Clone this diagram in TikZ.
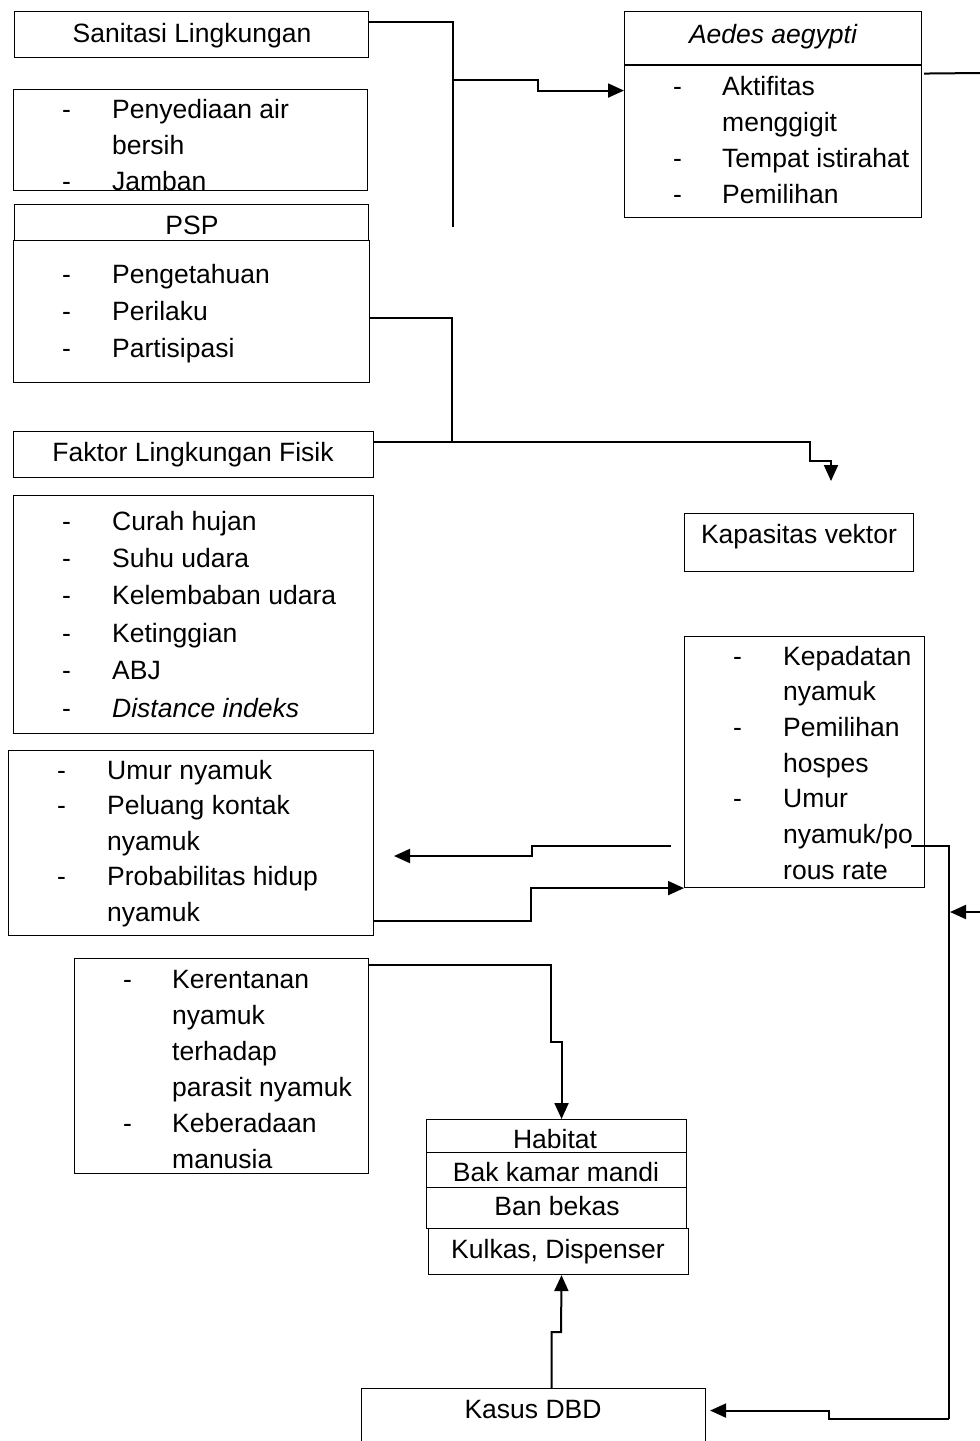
\documentclass[tikz,border=0pt]{standalone}
\usepackage{fontspec}
\setmainfont{Liberation Sans}
\usetikzlibrary{arrows.meta}
\begin{document}
\begin{tikzpicture}[x=1pt,y=-1pt,
  box/.style={draw=black, line width=1.1pt, rectangle, inner sep=0pt, anchor=north west},
  lbl/.style={inner sep=0pt, anchor=base, font=\fontsize{26.5}{32}\selectfont},
  lst/.style={inner sep=0pt, anchor=base west, font=\fontsize{26.5}{#1}\selectfont},
  conn/.style={line width=2pt, black},
  arr/.style={conn, -{Triangle[length=16pt,width=14pt]}},
]
\path[use as bounding box] (0,0) rectangle (980,1441);
\clip (0,0) rectangle (980,1441);
\fill[white] (0,0) rectangle (980,1441);

% left column
\node[box, minimum width=354pt, minimum height=46pt] (sani) at (14,11) {};
\node[lbl] (saniT) at (192,42) {Sanitasi Lingkungan};

\node[box, minimum width=354pt, minimum height=101pt] (air) at (13,89) {};
\node[lst=36] (airT) at (62,118) {\begin{tabular}[t]{@{}p{50pt}@{}l@{}}-&Penyediaan air\\&bersih\\-&Jamban\end{tabular}};

\node[box, minimum width=354pt, minimum height=36pt] (psph) at (14,204) {};
\node[lbl] (psphT) at (192,234) {PSP};
\node[box, minimum width=356pt, minimum height=142pt] (psp) at (13,240) {};
\node[lst=37] (pspT) at (62,283) {\begin{tabular}[t]{@{}p{50pt}@{}l@{}}-&Pengetahuan\\-&Perilaku\\-&Partisipasi\end{tabular}};

\node[box, minimum width=360pt, minimum height=46pt] (fak) at (13,431) {};
\node[lbl] (fakT) at (193,461) {Faktor Lingkungan Fisik};
\node[box, minimum width=360pt, minimum height=238pt] (fakl) at (13,495) {};
\node[lst=37.4] (faklT) at (62,530) {\begin{tabular}[t]{@{}p{50pt}@{}l@{}}-&Curah hujan\\-&Suhu udara\\-&Kelembaban udara\\-&Ketinggian\\-&ABJ\\-&\textit{Distance indeks}\end{tabular}};

\node[box, minimum width=365pt, minimum height=185pt] (umur) at (8,750) {};
\node[lst=35.5] (umurT) at (57,779) {\begin{tabular}[t]{@{}p{50pt}@{}l@{}}-&Umur nyamuk\\-&Peluang kontak\\&nyamuk\\-&Probabilitas hidup\\&nyamuk\end{tabular}};

\node[box, minimum width=294pt, minimum height=215pt] (keren) at (74,958) {};
\node[lst=36] (kerenT) at (123,988) {\begin{tabular}[t]{@{}p{49pt}@{}l@{}}-&Kerentanan\\&nyamuk\\&terhadap\\&parasit nyamuk\\-&Keberadaan\\&manusia\end{tabular}};

% right column
\node[box, minimum width=297pt, minimum height=206pt] (aedes) at (624,11) {};
\draw[line width=1.1pt] (aedes.north west |- 0,65) -- (aedes.north east |- 0,65);
\node[lbl] (aedesT) at (773,43) {\itshape Aedes aegypti};
\node[lst=36] (aedesL) at (673,95) {\begin{tabular}[t]{@{}p{49pt}@{}l@{}}-&Aktifitas\\&menggigit\\-&Tempat istirahat\\-&Pemilihan\end{tabular}};

\node[box, minimum width=229pt, minimum height=58pt] (kap) at (684,513) {};
\node[lbl] (kapT) at (799,543) {Kapasitas vektor};

\node[box, minimum width=240pt, minimum height=251pt] (kep) at (684,636) {};
\node[lst=35.7] (kepT) at (733,665) {\begin{tabular}[t]{@{}p{50pt}@{}l@{}}-&Kepadatan\\&nyamuk\\-&Pemilihan\\&hospes\\-&Umur\\&nyamuk/po\\&rous rate\end{tabular}};

% habitat stack
\node[box, minimum width=260pt, minimum height=33pt] (hab1) at (426,1119) {};
\node[lbl] (hab1T) at (555,1148) {Habitat};
\node[box, minimum width=260pt, minimum height=35pt] (hab2) at (426,1152) {};
\node[lbl] (hab2T) at (556,1181) {Bak kamar mandi};
\node[box, minimum width=260pt, minimum height=41pt] (hab3) at (426,1187) {};
\node[lbl] (hab3T) at (557,1215) {Ban bekas};
\node[box, minimum width=260pt, minimum height=46pt] (hab4) at (428,1228) {};
\node[lbl] (hab4T) at (558,1258) {Kulkas, Dispenser};

\node[box, minimum width=344pt, minimum height=90pt] (kasus) at (361,1388) {};
\node[lbl] (kasusT) at (533,1418) {Kasus DBD};

% connectors
\coordinate (s1) at (453,227);
\coordinate (s2) at (453,80);
\coordinate (s3) at (538,85);
\draw[conn] ([yshift=13pt]sani.east) -| (s1);
\draw[arr] (s2) -| (s3) |- ([yshift=24pt]aedes.west);

\coordinate (aeout) at (980,73);
\draw[conn] ([xshift=2pt,yshift=41pt]aedes.east) -- (aeout);

\coordinate (p1) at (452,441);
\draw[conn] ([yshift=-6pt]psp.east) -| (p1);

\coordinate (f1) at (810,461);
\coordinate (kapin) at (831,481);
\draw[arr] ([yshift=13pt]fak.east) -| (f1) -| (kapin);

\coordinate (k1) at (671,846);
\coordinate (k2) at (532,851);
\coordinate (umin) at (394,856);
\draw[arr] (k1) -| (k2) |- (umin);

\coordinate (u1) at (531,904);
\draw[arr] ([yshift=-77.5pt]umur.east) -| (u1) |- (kep.south west);

\coordinate (r0) at (911,846);
\coordinate (r1) at (949,1419);
\coordinate (r2) at (829,1414);
\draw[conn] (r0) -| (r1);
\draw[arr] (r1) -| (r2) |- ([xshift=4pt,yshift=23pt]kasus.east);

\coordinate (rin) at (980,912);
\coordinate (rtip) at (950,912);
\draw[arr] (rin) -- (rtip);

\coordinate (h1) at (551,1042);
\draw[arr] ([yshift=101.5pt]keren.east) -| (h1) -| ([xshift=5pt]hab1.north);

\coordinate (h2) at (561,1332);
\draw[arr] ([xshift=18pt]kasus.north) |- (h2) -- ([xshift=3pt]hab4.south);
\end{tikzpicture}
\end{document}
